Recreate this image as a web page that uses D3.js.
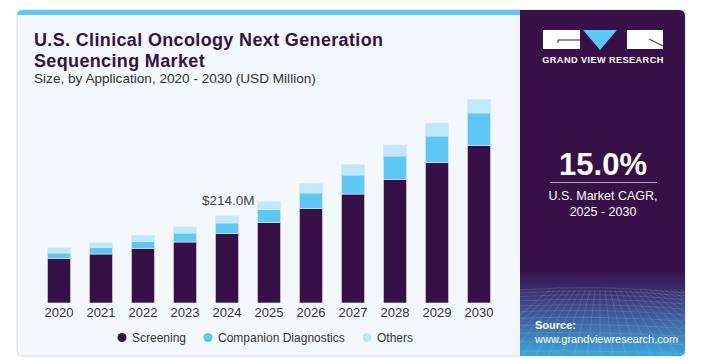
<!DOCTYPE html>
<html>
<head>
<meta charset="utf-8">
<script src="https://cdn.jsdelivr.net/npm/d3@7"></script>
<style>
  body { margin: 0; background: #fff; }
  text { font-family: "Liberation Sans", Arial, sans-serif; }
</style>
</head>
<body>
<script>
// chart data (USD Million)
var years = ["2020","2021","2022","2023","2024","2025","2026","2027","2028","2029","2030"];
var screening = [109, 120.5, 133.6, 150, 170.5, 197.6, 232, 268, 304, 345, 387.7];
var companion = [14, 15.5, 18, 22, 26.3, 32, 38.6, 46.7, 57.6, 65.7, 79.7];
var others = [12.3, 12.3, 14.8, 15.5, 17.2, 19.7, 22.9, 26, 27, 32, 33.5];
var seriesNames = ["Screening", "Companion Diagnostics", "Others"];
var colors = ["#361046", "#5bc8f5", "#bde9fa"];
var callout = {year: "2024", label: "$214.0M"};

var W = 714, H = 361;
var svg = d3.select("body").append("svg")
    .attr("width", W)
    .attr("height", H);

var defs = svg.append("defs");
var grad = defs.append("linearGradient")
    .attr("id", "panelGrad")
    .attr("x1", 0).attr("y1", 0).attr("x2", 0).attr("y2", 1);
grad.append("stop").attr("offset", "0%").attr("stop-color", "#361046");
grad.append("stop").attr("offset", "75%").attr("stop-color", "#361046");
grad.append("stop").attr("offset", "84%").attr("stop-color", "#3f3f80");
grad.append("stop").attr("offset", "100%").attr("stop-color", "#3ea5dc");

var clip = defs.append("clipPath").attr("id", "panelClip");
clip.append("path")
    .attr("d", "M520,10 H679 Q685,10 685,16 V350 Q685,356 679,356 H520 Z");

// card background
svg.append("path")
    .attr("d", "M17,16 Q17,10 23,10 H685 V356 H23 Q17,356 17,350 Z")
    .attr("fill", "#f2f8fb")
    .attr("stroke", "#d3d7da")
    .attr("stroke-width", 1);

// top cyan strip
svg.append("path")
    .attr("d", "M17,16 Q17,10 23,10 H520 V15 H17 Z")
    .attr("fill", "#5bc8f5");

// right panel
var panel = svg.append("g").attr("clip-path", "url(#panelClip)");
panel.append("rect")
    .attr("x", 520).attr("y", 10)
    .attr("width", 165).attr("height", 346)
    .attr("fill", "url(#panelGrad)");

// faint grid texture at bottom of panel
var gridG = panel.append("g")
    .attr("stroke", "#a9daf3")
    .attr("stroke-opacity", 0.25)
    .attr("stroke-width", 0.7)
    .attr("fill", "none");
d3.range(0, 14).forEach(function(i) {
  var yy = 290 + i * i * 0.35 + i * 2.6;
  gridG.append("path")
      .attr("d", "M520," + yy + " Q600," + (yy - 6 + i * 0.5) + " 685," + (yy + 3));
});
d3.range(-10, 22).forEach(function(i) {
  var xTop = 600 + i * 5;
  var xBot = 600 + i * 13;
  gridG.append("path")
      .attr("d", "M" + xTop + ",290 L" + xBot + ",356");
});

// logo
var logo = svg.append("g");
logo.append("rect").attr("x", 543).attr("y", 30).attr("width", 37).attr("height", 19).attr("fill", "#fff");
logo.append("path").attr("d", "M558,43 V40 H580").attr("stroke", "#361046").attr("stroke-width", 1).attr("fill", "none");
logo.append("path").attr("d", "M583,30 H617 L600,50 Z").attr("fill", "#5bc8f5");
logo.append("rect").attr("x", 627).attr("y", 30).attr("width", 36).attr("height", 19).attr("fill", "#fff");
logo.append("path").attr("d", "M649,39 L663,46").attr("stroke", "#361046").attr("stroke-width", 1).attr("fill", "none");
logo.append("text")
    .attr("x", 603).attr("y", 63)
    .attr("text-anchor", "middle")
    .attr("fill", "#fff")
    .attr("font-size", "9.2px")
    .attr("font-weight", "bold")
    .attr("letter-spacing", "0.4px")
    .text("GRAND VIEW RESEARCH");

// CAGR
svg.append("text")
    .attr("x", 603).attr("y", 175)
    .attr("text-anchor", "middle")
    .attr("fill", "#fff")
    .attr("font-size", "31px")
    .attr("font-weight", "bold")
    .text("15.0%");
svg.append("line")
    .attr("x1", 550).attr("x2", 657)
    .attr("y1", 182.5).attr("y2", 182.5)
    .attr("stroke", "#b8a9c4").attr("stroke-width", 1.2);
svg.append("text")
    .attr("x", 603).attr("y", 200)
    .attr("text-anchor", "middle")
    .attr("fill", "#fff")
    .attr("font-size", "12.5px")
    .text("U.S. Market CAGR,");
svg.append("text")
    .attr("x", 603).attr("y", 216)
    .attr("text-anchor", "middle")
    .attr("fill", "#fff")
    .attr("font-size", "12.5px")
    .text("2025 - 2030");

// source
svg.append("text")
    .attr("x", 535).attr("y", 329)
    .attr("fill", "#fff")
    .attr("font-size", "11px")
    .attr("font-weight", "bold")
    .text("Source:");
svg.append("text")
    .attr("x", 535).attr("y", 343)
    .attr("fill", "#fff")
    .attr("font-size", "11px")
    .text("www.grandviewresearch.com");

// title
var titleLines = ["U.S. Clinical Oncology Next Generation", "Sequencing Market"];
titleLines.forEach(function(t, i) {
  svg.append("text")
      .attr("x", 34).attr("y", 46 + i * 21)
      .attr("fill", "#361046")
      .attr("font-size", "18px")
      .attr("font-weight", "900")
      .attr("letter-spacing", "0.35px")
      .attr("font-family", "Roboto, sans-serif")
      .text(t);
});
svg.append("text")
    .attr("x", 34).attr("y", 82.5)
    .attr("fill", "#333")
    .attr("font-size", "13.6px")
    .text("Size, by Application, 2020 - 2030 (USD Million)");

// scales
var x = d3.scaleBand()
    .domain(years)
    .range([38, 500])
    .paddingInner(0.45)
    .paddingOuter(0.225);
var y = d3.scaleLinear()
    .domain([0, 500])
    .range([303, 99.7]);

var rows = years.map(function(yr, i) {
  return {year: yr, Screening: screening[i], "Companion Diagnostics": companion[i], Others: others[i]};
});
var stack = d3.stack().keys(seriesNames)(rows);

svg.append("g")
  .selectAll("g")
  .data(stack)
  .join("g")
    .attr("fill", function(d, i) { return colors[i]; })
  .selectAll("rect")
  .data(function(d) { return d; })
  .join("rect")
    .attr("x", function(d) { return x(d.data.year); })
    .attr("y", function(d) { return y(d[1]); })
    .attr("width", x.bandwidth())
    .attr("height", function(d) { return y(d[0]) - y(d[1]); })
    .attr("stroke", "#e8e4ee")
    .attr("stroke-width", 0.6);

// x axis
var xAxis = svg.append("g")
    .attr("transform", "translate(0,303)")
    .call(d3.axisBottom(x).tickSize(0).tickPadding(5));
xAxis.select(".domain").remove();
xAxis.selectAll("text")
    .attr("fill", "#333")
    .attr("font-size", "13px")
    .attr("font-family", "Liberation Sans, Arial, sans-serif");

// callout
var ci = years.indexOf(callout.year);
var ctot = screening[ci] + companion[ci] + others[ci];
svg.append("text")
    .attr("x", x(callout.year) + x.bandwidth() + 16)
    .attr("y", y(ctot) - 11)
    .attr("text-anchor", "end")
    .attr("fill", "#444")
    .attr("font-size", "13.5px")
    .text(callout.label);

// legend
var legendX = [122, 208, 367];
var leg = svg.append("g");
seriesNames.forEach(function(name, i) {
  leg.append("circle")
      .attr("cx", legendX[i]).attr("cy", 337.5)
      .attr("r", 4.5)
      .attr("fill", colors[i]);
  leg.append("text")
      .attr("x", legendX[i] + 10).attr("y", 342)
      .attr("fill", "#333")
      .attr("font-size", "12px")
      .text(name);
});
</script>
</body>
</html>
